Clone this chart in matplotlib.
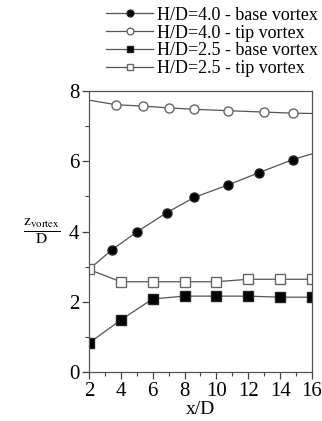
import matplotlib
matplotlib.use("Agg")
import matplotlib.pyplot as plt
from matplotlib.ticker import MultipleLocator

plt.rcParams['font.family'] = ['Liberation Serif', 'DejaVu Serif']
plt.rcParams['mathtext.fontset'] = 'stix'

# H/D=4.0 base vortex (line starts at the shared point x=2 and runs to x=16)
x_base40 = [2.0, 3.45, 5.05, 6.9, 8.6, 10.7, 12.7, 14.8, 16.0]
y_base40 = [2.92, 3.48, 4.0, 4.54, 4.97, 5.32, 5.68, 6.05, 6.21]

# H/D=4.0 tip vortex
x_tip40 = [2.0, 3.7, 5.4, 7.0, 8.6, 10.7, 13.0, 14.8, 16.0]
y_tip40 = [7.74, 7.61, 7.57, 7.52, 7.48, 7.44, 7.40, 7.37, 7.36]

# H/D=2.5 base vortex
x_base25 = [2, 4, 6, 8, 10, 12, 14, 16]
y_base25 = [0.82, 1.48, 2.08, 2.16, 2.16, 2.16, 2.13, 2.13]

# H/D=2.5 tip vortex
x_tip25 = [2, 4, 6, 8, 10, 12, 14, 16]
y_tip25 = [2.92, 2.57, 2.57, 2.57, 2.57, 2.64, 2.64, 2.64]

labels = ["H/D=4.0 - base vortex", "H/D=4.0 - tip vortex",
          "H/D=2.5 - base vortex", "H/D=2.5 - tip vortex"]

fig = plt.figure(figsize=(3.22, 4.21), dpi=100)
ax = fig.add_axes([0.276, 0.1164, 0.693, 0.6674])

lc = '#555555'
ec = '#222222'
ms = 6.5

h1, = ax.plot(x_base40, y_base40, '-', color=lc, lw=0.9, marker='o', ms=ms,
              mfc='black', mec=ec, markevery=list(range(1, 8)))
h2, = ax.plot(x_tip40, y_tip40, '-', color=lc, lw=0.9, marker='o', ms=ms,
              mfc='white', mec='#666666', markevery=list(range(1, 8)))
h3, = ax.plot(x_base25, y_base25, '-', color=lc, lw=0.9, marker='s', ms=ms,
              mfc='black', mec=ec)
h4, = ax.plot(x_tip25, y_tip25, '-', color=lc, lw=0.9, marker='s', ms=ms,
              mfc='white', mec='#666666')

ax.set_xlim(2, 16)
ax.set_ylim(0, 8)
ax.xaxis.set_major_locator(MultipleLocator(2))
ax.xaxis.set_minor_locator(MultipleLocator(1))
ax.yaxis.set_major_locator(MultipleLocator(2))
ax.yaxis.set_minor_locator(MultipleLocator(1))
ax.tick_params(which='major', direction='out', length=5, width=0.9,
               color='#444444', labelsize=15, pad=2)
ax.tick_params(which='minor', direction='out', length=3, width=0.8,
               color='#444444')
for s in ax.spines.values():
    s.set_color('#555555')
    s.set_linewidth(0.9)

ax.set_xlabel("x/D", fontsize=14, labelpad=0)
ax.set_ylabel(r"$\frac{\mathrm{z_{vortex}}}{\mathrm{D}}$", fontsize=16,
              rotation=0, labelpad=19, va='center')

fig.legend([h1, h2, h3, h4], labels, loc='upper right',
           bbox_to_anchor=(1.02, 1.01), frameon=False, fontsize=13,
           handlelength=2.6, handletextpad=0.2, labelspacing=0.05,
           markerscale=0.75, borderaxespad=0.2)

fig.savefig("out.png", dpi=100)
